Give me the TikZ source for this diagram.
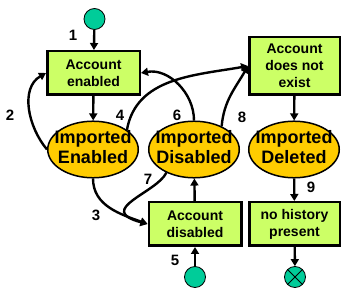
\documentclass[tikz,border=0pt]{standalone}
\usepackage{fontspec}
\setmainfont{Liberation Sans}
\usetikzlibrary{arrows.meta, shapes.geometric, positioning}
\definecolor{boxgreen}{RGB}{204,255,102}
\definecolor{stategold}{RGB}{255,204,0}
\definecolor{termteal}{RGB}{0,204,153}
\newcommand\twoline[1]{\makebox[0pt]{\begin{tabular}{@{}c@{}}#1\end{tabular}}}

\begin{document}
\begin{tikzpicture}[x=1pt, y=1pt,
    acct/.style={draw=black, fill=boxgreen, line width=2.5pt, minimum width=92.5pt, minimum height=43.5pt, inner sep=0pt, align=center, font=\fontsize{14}{17}\selectfont\bfseries},
    imported/.style={ellipse, draw=black, fill=stategold, line width=1.5pt, minimum width=90.5pt, minimum height=54.5pt, inner sep=0pt, font=\fontsize{18}{20}\selectfont\bfseries},
    term/.style={circle, draw=black, fill=termteal, line width=0.8pt, minimum size=21pt, inner sep=0pt},
    num/.style={font=\fontsize{15}{15}\selectfont\bfseries},
    flow/.style={-{Triangle[length=7pt,width=8pt]}, line width=2.4pt}
]
        \useasboundingbox (0,0) rectangle (354,295);

        \node[term, name=startA] at(94.5,276) {};
        \node[acct, name=AE] at(93.5,222) {Account\\enabled};
        \node[acct, name=ADNE, minimum height=57.5pt, minimum width=90.5pt] at(294.5,229) {Account\\does not\\exist};

        \node[imported, name=IE] at(93,145.5) {\twoline{Imported\\Enabled}};
        \node[imported, name=ID] at(194,145.5) {\twoline{Imported\\Disabled}};
        \node[imported, name=IDel] at(294,145.5) {\twoline{Imported\\Deleted}};

        \node[acct, name=AD] at(195,71) {Account\\disabled};
        \node[acct, name=NHP, minimum width=90.5pt] at(294.5,71) {no history\\present};

        \node[term, name=startB] at(195,18) {};
        \node[term, name=stop] at(295,18) {};
        \draw[line width=0.8pt] (stop.45) -- (stop.225);
        \draw[line width=0.8pt] (stop.135) -- (stop.315);

        \node[num, name=n1] at(73,260) {1};
        \node[num, name=n2] at(10,180) {2};
        \node[num, name=n3] at(96,80) {3};
        \node[num, name=n4] at(120,180) {4};
        \node[num, name=n5] at(175,35) {5};
        \node[num, name=n6] at(177,180) {6};
        \node[num, name=n7] at(148,116) {7};
        \node[num, name=n8] at(242,178) {8};
        \node[num, name=n9] at(311,108) {9};

        \draw[flow] (startA) -- (AE);
        \draw[flow] (AE) -- (IE);
        \draw[flow] (IE.west) to[out=130,in=210] (AE.west);
        \draw[flow] (IE.south) to[out=-90,in=160] (AD.west);
        \draw[flow] (IE.30) to[out=80,in=190] (ADNE.west);
        \draw[flow] (ID.north) to[out=90,in=10] (AE.east);
        \draw[flow] (ID.220) .. controls +(245:22) and +(165:55) .. (AD.west);
        \draw[flow] (ID.40) to[out=85,in=240] (ADNE.west);
        \draw[flow] (startB) -- (AD);
        \draw[flow] (AD) -- (ID);
        \draw[flow] (ADNE) -- (IDel);
        \draw[flow] (IDel) -- (NHP);
        \draw[flow] (NHP) -- (stop);
    \end{tikzpicture}
\end{document}
